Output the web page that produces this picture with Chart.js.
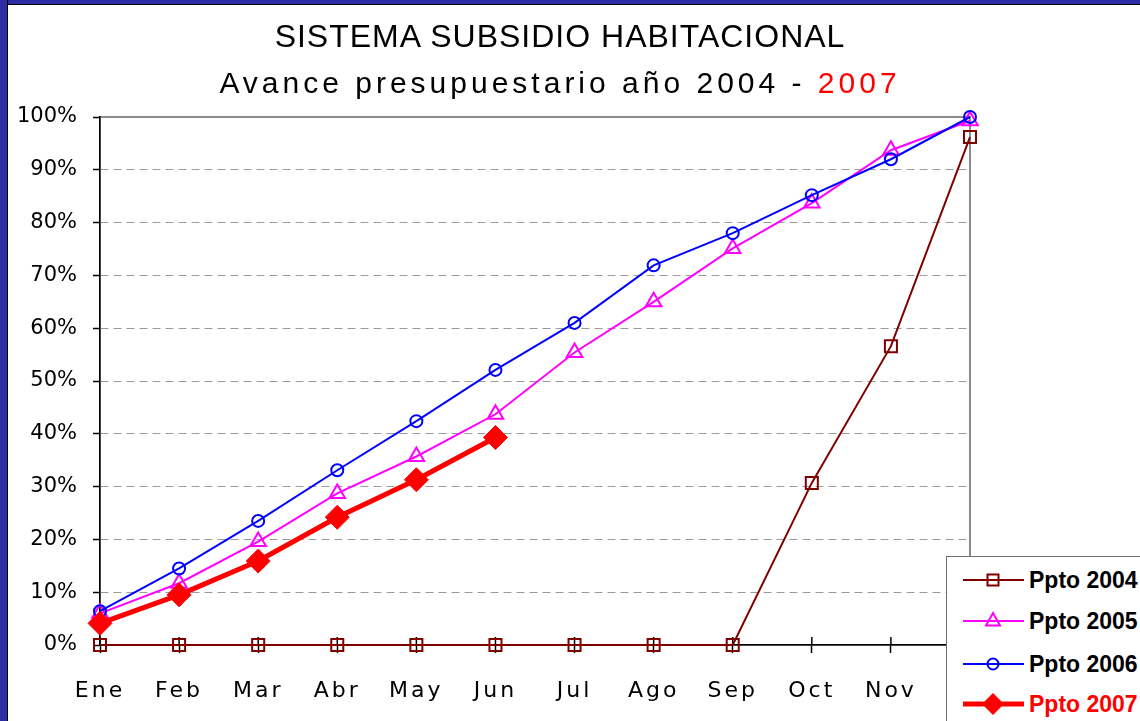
<!DOCTYPE html>
<html>
<head>
<meta charset="utf-8">
<script src="https://cdn.jsdelivr.net/npm/chart.js@4.4.1/dist/chart.umd.min.js"></script>
<style>
html,body{margin:0;padding:0;background:#fff;width:1140px;height:721px;overflow:hidden;}
#wrap{position:relative;width:1140px;height:721px;overflow:hidden;}
#c{position:absolute;left:0;top:0;}
.bandTop{position:absolute;left:0;top:0;width:1140px;height:4px;background:#2c2ca4;border-bottom:1.5px solid #000;}
.bandLeft{position:absolute;left:0;top:0;width:7px;height:721px;background:#2c2ca4;border-right:1.5px solid #000;}
.t1{position:absolute;left:0;width:1120px;text-align:center;top:20px;font-family:"Liberation Sans",Arial,sans-serif;font-size:32px;line-height:32px;letter-spacing:1px;color:#000;white-space:nowrap;}
.t2{position:absolute;left:0;width:1120px;text-align:center;top:68px;font-family:"Liberation Sans",Arial,sans-serif;font-size:30px;line-height:30px;letter-spacing:4px;color:#000;white-space:nowrap;}
.t2 .red{color:#ff0000;}
#legend{position:absolute;left:946px;top:556px;width:300px;height:300px;background:#fff;border:1.5px solid #6e6e6e;box-sizing:border-box;}
.li{position:absolute;left:0;height:30px;width:300px;}
.li svg{position:absolute;left:14px;top:0;}
.li span{position:absolute;left:82px;top:0;line-height:30px;font-family:"Liberation Sans",Arial,sans-serif;font-weight:bold;font-size:23px;white-space:nowrap;}
</style>
</head>
<body>
<div id="wrap">
  <canvas id="c" width="1140" height="721"></canvas>
  <div class="bandTop"></div>
  <div class="bandLeft"></div>
  <div class="t1">SISTEMA SUBSIDIO HABITACIONAL</div>
  <div class="t2">Avance presupuestario año 2004 - <span class="red">2007</span></div>
  <div id="legend"></div>
</div>
<script>
// ---- data ----
const months = ['Ene','Feb','Mar','Abr','May','Jun','Jul','Ago','Sep','Oct','Nov','Dic'];
const ppto2004 = [0, 0, 0, 0, 0, 0, 0, 0, 0, 30.7, 56.6, 96.2];
const ppto2005 = [6.0, 11.7, 19.6, 28.7, 35.7, 43.7, 55.4, 65.0, 75.1, 83.7, 93.7, 99.3];
const ppto2006 = [6.4, 14.5, 23.5, 33.1, 42.4, 52.1, 61.0, 71.9, 78.0, 85.2, 92.0, 100.0];
const ppto2007 = [4.1, 9.5, 15.9, 24.2, 31.3, 39.3];
const seriesNames = ['Ppto 2004','Ppto 2005','Ppto 2006','Ppto 2007'];
const yTicks = [0,10,20,30,40,50,60,70,80,90,100];

const styles = [
  {color:'#800000', width:2, point:'rect', radius:8.5, fill:false, textColor:'#000'},
  {color:'#ff00ff', width:2, point:'triangle', radius:9, fill:false, textColor:'#000'},
  {color:'#0000ff', width:2, point:'circle', radius:6, fill:false, textColor:'#000'},
  {color:'#ff0000', width:5, point:'rectRot', radius:12, fill:true, textColor:'#ff0000'}
];
const values = [ppto2004, ppto2005, ppto2006, ppto2007];
const orders = [3, 2, 1, 0];

const datasets = values.map((v, i) => ({
  label: seriesNames[i],
  data: v,
  borderColor: styles[i].color,
  borderWidth: styles[i].width,
  backgroundColor: styles[i].color,
  pointStyle: styles[i].point,
  pointRadius: styles[i].radius,
  pointBorderWidth: styles[i].fill ? 1 : 2,
  pointBorderColor: styles[i].color,
  pointBackgroundColor: styles[i].fill ? styles[i].color : 'rgba(0,0,0,0)',
  tension: 0,
  fill: false,
  clip: false,
  order: orders[i]
}));

const framePlugin = {
  id: 'frame',
  beforeDraw(chart) {
    const {ctx, chartArea: a} = chart;
    ctx.save();
    ctx.strokeStyle = '#8a8a8a';
    ctx.lineWidth = 2;
    ctx.strokeRect(a.left, a.top, a.right - a.left, a.bottom - a.top);
    ctx.restore();
    const xs = chart.scales.x;
    if (!xs._lsPatched) {
      const orig = xs.drawLabels;
      xs.drawLabels = function (ca) {
        const c = this.ctx;
        c.save();
        c.letterSpacing = '3px';
        orig.call(this, ca);
        c.restore();
      };
      xs._lsPatched = true;
    }
  },
  beforeDatasetsDraw(chart) {
    const xs = chart.scales.x, ctx = chart.ctx, a = chart.chartArea;
    ctx.save();
    ctx.strokeStyle = '#000';
    ctx.lineWidth = 1.5;
    for (let i = 0; i < xs.ticks.length; i++) {
      const x = xs.getPixelForTick(i);
      ctx.beginPath();
      ctx.moveTo(x, a.bottom - 8);
      ctx.lineTo(x, a.bottom);
      ctx.stroke();
    }
    ctx.restore();
  }
};

const chart = new Chart(document.getElementById('c'), {
  type: 'line',
  data: { labels: months, datasets: datasets },
  plugins: [framePlugin],
  options: {
    responsive: false,
    animation: false,
    events: [],
    layout: { padding: { top: 117, right: 170, left: 0, bottom: 0 } },
    plugins: { legend: { display: false }, tooltip: { enabled: false }, title: { display: false } },
    scales: {
      x: {
        type: 'category',
        offset: false,
        grid: { drawOnChartArea: false, drawTicks: true, tickLength: 8, tickColor: '#000', tickWidth: 1.5, color: '#000' },
        border: { display: true, color: '#000', width: 1.5 },
        ticks: { color: '#000', font: { family: 'DejaVu Sans', size: 22 }, padding: 25, autoSkip: false, maxRotation: 0 },
        afterFit: s => { s.height = 76; }
      },
      y: {
        min: yTicks[0],
        max: yTicks[yTicks.length - 1],
        afterBuildTicks: s => { s.ticks = yTicks.map(v => ({ value: v })); },
        ticks: { callback: v => v + '%', color: '#000', font: { family: 'DejaVu Sans', size: 21 }, padding: 16 },
        grid: {
          color: c => (c.tick && (c.tick.value === 100 || c.tick.value === 0)) ? 'rgba(0,0,0,0)' : '#9a9a9a',
          lineWidth: 1, tickLength: 7, tickColor: '#000', tickWidth: 1.5
        },
        border: { display: true, color: '#000', width: 1.5, dash: [8, 5] },
        afterFit: s => { s.width = 100; }
      }
    }
  }
});
chart.draw();

// ---- HTML legend ----
const legend = document.getElementById('legend');
const rowTops = [8, 49, 92, 132];
function markerSvg(st) {
  const cx = 32, cy = 15;
  const sw = st.fill ? 0 : 2;
  const fill = st.fill ? st.color : 'none';
  let m = '';
  if (st.point === 'rect') m = `<rect x="${cx-5.5}" y="${cy-5.5}" width="11" height="11" fill="${fill}" stroke="${st.color}" stroke-width="${sw}"/>`;
  if (st.point === 'triangle') m = `<polygon points="${cx},${cy-8} ${cx+7},${cy+4.5} ${cx-7},${cy+4.5}" fill="${fill}" stroke="${st.color}" stroke-width="${sw}"/>`;
  if (st.point === 'circle') m = `<circle cx="${cx}" cy="${cy}" r="5.5" fill="${fill}" stroke="${st.color}" stroke-width="${sw}"/>`;
  if (st.point === 'rectRot') m = `<polygon points="${cx},${cy-11} ${cx+11},${cy} ${cx},${cy+11} ${cx-11},${cy}" fill="${fill}"/>`;
  return `<svg width="64" height="30" viewBox="0 0 64 30"><line x1="2" y1="${cy}" x2="63" y2="${cy}" stroke="${st.color}" stroke-width="${st.width}"/>${m}</svg>`;
}
seriesNames.forEach((n, i) => {
  const d = document.createElement('div');
  d.className = 'li';
  d.style.top = rowTops[i] + 'px';
  d.innerHTML = markerSvg(styles[i]) + `<span style="color:${styles[i].textColor}">${n}</span>`;
  legend.appendChild(d);
});
</script>
</body>
</html>
